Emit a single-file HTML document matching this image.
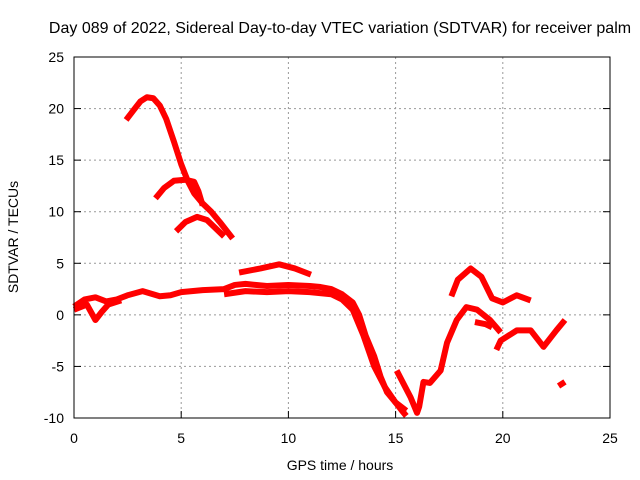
<!DOCTYPE html>
<html><head><meta charset="utf-8"><style>
body{margin:0;background:#fff;}
svg{display:block;font-family:"Liberation Sans",sans-serif;}
</style></head><body>
<svg id="chart" width="640" height="480" viewBox="0 0 640 480">
<rect x="0" y="0" width="640" height="480" fill="#fff"/>
<text x="340" y="33" font-size="16" text-anchor="middle" fill="#000">Day 089 of 2022, Sidereal Day-to-day VTEC variation (SDTVAR) for receiver palm</text>
<text x="340" y="470" font-size="14" text-anchor="middle" fill="#000">GPS time / hours</text>
<text x="18" y="237" font-size="14" text-anchor="middle" fill="#000" transform="rotate(-90 18 237)">SDTVAR / TECUs</text>
<g id="grid"></g><g id="ticks"></g><g id="series"></g>
<rect x="74" y="57" width="536" height="361" fill="none" stroke="#000" stroke-width="1"/>
</svg>
<script>
const xTicks=[0,5,10,15,20,25];
const yTicks=[-10,-5,0,5,10,15,20,25];
const segArc1=[[2.43,18.9],[2.8,19.9],[3.1,20.7],[3.4,21.1],[3.7,21.0],[4.0,20.3],[4.3,19.0],[4.66,16.8],[5.0,14.6],[5.3,13.0],[5.6,11.8],[6.0,10.8],[6.4,10.0],[6.8,9.0],[7.1,8.2],[7.4,7.4]];
const segArc2=[[3.8,11.3],[4.2,12.3],[4.66,13.0],[5.2,13.1],[5.6,12.9],[5.8,12.0],[6.0,10.6]];
const segArc3=[[4.76,8.1],[5.2,9.0],[5.74,9.5],[6.2,9.2],[6.6,8.4],[7.0,7.6]];
const segBump=[[7.7,4.1],[8.7,4.5],[9.57,4.9],[10.3,4.5],[11.05,3.9]];
const segBaseA=[[0,0.8],[0.5,1.5],[1.0,1.7],[1.5,1.3],[2,1.5],[2.5,1.9],[3.2,2.3],[4,1.8],[4.5,1.9],[5,2.2],[6,2.4],[7,2.5],[7.5,2.9],[8,3.0],[9,2.8],[10,2.9],[11,2.8],[11.5,2.7],[12,2.5],[12.5,2.0],[13,1.2],[13.3,0],[13.6,-2],[14,-4],[14.3,-6],[14.6,-7.5],[15,-8.5],[15.3,-9.3],[15.5,-9.8]];
const segBaseB=[[0,0.5],[0.6,1.0],[1.0,-0.5],[1.3,0.3],[1.6,1.0],[2.2,1.4]];
const segBaseC=[[7,2.0],[8,2.3],[9,2.2],[10,2.3],[11,2.2],[12,2.0],[12.5,1.5],[13,0.5],[13.5,-2],[14,-5],[14.5,-7],[15,-8.5],[15.5,-9.3]];
const segV=[[15.05,-5.4],[15.4,-6.8],[15.7,-8.0],[16.0,-9.5],[16.1,-8.9],[16.3,-6.5],[16.6,-6.6],[17.1,-5.4],[17.4,-2.7],[17.85,-0.5],[18.3,0.75],[18.8,0.5],[19.4,-0.5],[19.9,-1.7]];
const segFrag=[[18.7,-0.7],[19.2,-0.9],[19.5,-1.2]];
const segTail=[[19.7,-3.4],[19.9,-2.5],[20.66,-1.5],[21.3,-1.5],[21.9,-3.1],[22.5,-1.5],[22.9,-0.5]];
const segSmall=[[22.6,-6.9],[22.9,-6.5]];
const segUpper=[[17.6,1.8],[17.9,3.4],[18.5,4.5],[19.0,3.7],[19.5,1.6],[20.0,1.2],[20.65,1.9],[21.3,1.4]];
const series=[segArc1,segArc2,segArc3,segBump,segBaseA,segBaseB,segBaseC,segV,segFrag,segTail,segSmall,segUpper];
const X=h=>74+h*(536/25);
const Y=v=>57+(25-v)*(361/35);
const NS="http://www.w3.org/2000/svg";
const grid=document.getElementById('grid'),ticks=document.getElementById('ticks'),ser=document.getElementById('series');
function mk(tag,attrs,parent){const e=document.createElementNS(NS,tag);for(const k in attrs)e.setAttribute(k,attrs[k]);parent.appendChild(e);return e;}
xTicks.forEach(t=>{
 if(t>0&&t<25){const g=mk('line',{x1:X(t),x2:X(t),y1:57,y2:418,stroke:'#999','stroke-dasharray':'2,3'},grid);
 
 }
 const tk=mk('line',{x1:X(t),x2:X(t),y1:418,y2:411,stroke:'#000'},ticks);
 
 
 const l=mk('text',{x:X(t),y:443,'font-size':14,'text-anchor':'middle'},ticks);l.textContent=t;
 
 
});
yTicks.forEach(t=>{
 if(t>-10&&t<25){const g=mk('line',{x1:74,x2:610,y1:Y(t),y2:Y(t),stroke:'#999','stroke-dasharray':'2,3'},grid);
 
 }
 const tk=mk('line',{x1:74,x2:81,y1:Y(t),y2:Y(t),stroke:'#000'},ticks);
 
 
 const tk2=mk('line',{x1:603,x2:610,y1:Y(t),y2:Y(t),stroke:'#000'},ticks);
 
 
 const l=mk('text',{x:64,y:Y(t)+5,'font-size':14,'text-anchor':'end'},ticks);l.textContent=t;
 
 
});
series.forEach(s=>{
 const p=mk('polyline',{points:s.map(d=>X(d[0])+','+Y(d[1])).join(' '),fill:'none',stroke:'#f00','stroke-width':6,'stroke-linejoin':'round','stroke-linecap':'butt'},ser);
 
 
});
</script>
</body></html>
